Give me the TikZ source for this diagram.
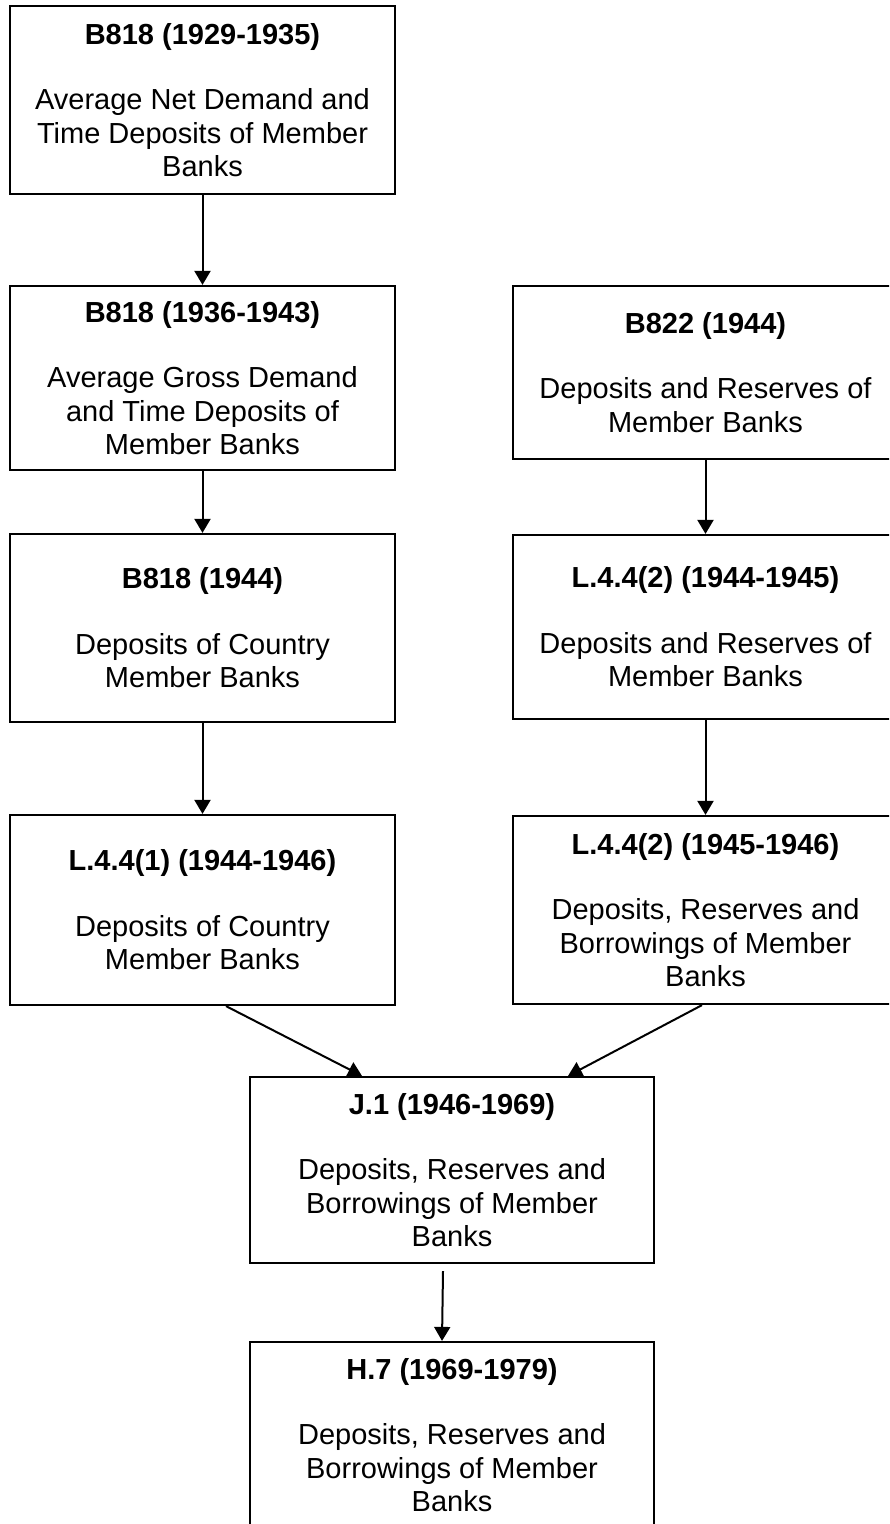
\documentclass[tikz,border=0pt]{standalone}
\usepackage{fontspec}
\setmainfont{Liberation Sans}
\usetikzlibrary{arrows.meta}

\tikzset{
  srcbox/.style={draw, line width=1.1pt, minimum width=192.5pt, inner sep=0pt, align=center,
    font=\fontsize{14.5}{16.75}\selectfont},
  feed/.style={line width=1pt, -{Triangle[length=7pt,width=8pt]}}
}

\begin{document}
\begin{tikzpicture}[x=0.5pt,y=-0.5pt]
  \useasboundingbox (0,0) rectangle (889,1524);
  \clip (0,0) rectangle (889,1524);

  \node[srcbox, minimum height=94pt] (b1) at (202.5,100)
    {\textbf{B818 (1929-1935)}\\[16pt]Average Net Demand and\\Time Deposits of Member\\Banks};
  \node[srcbox, minimum height=92pt] (b2) at (202.5,378)
    {\textbf{B818 (1936-1943)}\\[16pt]Average Gross Demand\\and Time Deposits of\\Member Banks};
  \node[srcbox, minimum height=86.5pt] (b3) at (705.5,372.5)
    {\textbf{B822 (1944)}\\[16pt]Deposits and Reserves of\\Member Banks};
  \node[srcbox, minimum height=94pt] (b4) at (202.5,628)
    {\textbf{B818 (1944)}\\[16pt]Deposits of Country\\Member Banks};
  \node[srcbox, minimum height=92pt] (b5) at (705.5,627)
    {\textbf{L.4.4(2) (1944-1945)}\\[16pt]Deposits and Reserves of\\Member Banks};
  \node[srcbox, minimum height=95pt] (b6) at (202.5,910)
    {\textbf{L.4.4(1) (1944-1946)}\\[16pt]Deposits of Country\\Member Banks};
  \node[srcbox, minimum height=94pt] (b7) at (705.5,910)
    {\textbf{L.4.4(2) (1945-1946)}\\[16pt]Deposits, Reserves and\\Borrowings of Member\\Banks};
  \node[srcbox, minimum width=202pt, minimum height=93pt] (b8) at (452,1170)
    {\textbf{J.1 (1946-1969)}\\[16pt]Deposits, Reserves and\\Borrowings of Member\\Banks};
  \node[srcbox, minimum width=202pt, minimum height=93pt] (b9) at (452,1435)
    {\textbf{H.7 (1969-1979)}\\[16pt]Deposits, Reserves and\\Borrowings of Member\\Banks};

  \foreach \a/\b in {b1/b2, b2/b4, b4/b6, b3/b5, b5/b7}
    \draw[feed] (\a.south) -- (\b.north);
  \draw[feed] ([xshift=11.75pt]b6.south) -- ([xshift=-45pt]b8.north);
  \draw[feed] ([xshift=-1.75pt]b7.south) -- ([xshift=58pt]b8.north);
  \draw[feed] ([xshift=-4.5pt,yshift=-3.5pt]b8.south) -- ([xshift=-5pt]b9.north);
\end{tikzpicture}
\end{document}
